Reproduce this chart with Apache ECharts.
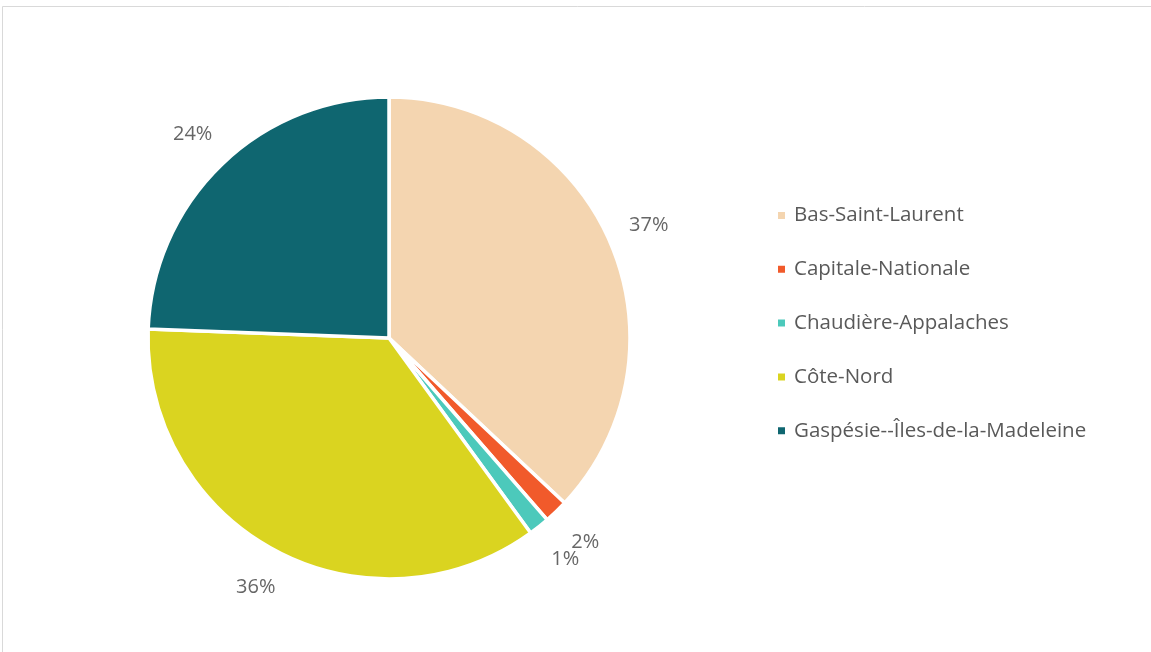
<!DOCTYPE html>
<html>
<head>
<meta charset="utf-8">
<script src="https://cdn.jsdelivr.net/npm/echarts@6/dist/echarts.min.js"></script>
<style>
  html, body { margin: 0; padding: 0; background: #ffffff; }
  #chart { width: 1151px; height: 652px; }
</style>
</head>
<body>
<div id="chart"></div>
<script>
// Regions and their share of the total (percent)
const regions = ['Bas-Saint-Laurent', 'Capitale-Nationale', 'Chaudière-Appalaches', 'Côte-Nord', 'Gaspésie--Îles-de-la-Madeleine'];
const shares = [37.0, 1.6, 1.4, 35.6, 24.4];
const colors = ['#F4D5B0', '#F15A2B', '#4CC9BB', '#DAD420', '#0F6670'];

const center = [389, 338];
const pieData = regions.map((name, i) => ({ name, value: shares[i], itemStyle: { color: colors[i] } }));

// Percentage labels sit on a ring just outside the pie, at each slice's mid-angle
const total = shares.reduce((a, b) => a + b, 0);
let acc = 0;
const labelPoints = shares.map(v => {
  const mid = (acc + v / 2) / total * 100;
  acc += v;
  return { value: [1, mid], pct: Math.round(v / total * 100) };
});

const chart = echarts.init(document.getElementById('chart'), null, { renderer: 'canvas' });
chart.setOption({
  backgroundColor: '#ffffff',
  animation: false,
  graphic: [{
    type: 'rect',
    shape: { x: 2.5, y: 6.5, width: 1160, height: 660 },
    style: { fill: 'none', stroke: '#d9d9d9', lineWidth: 1 },
    silent: true
  }],
  polar: { center: center, radius: 283 },
  radiusAxis: { type: 'value', min: 0, max: 1, show: false },
  angleAxis: { type: 'value', min: 0, max: 100, startAngle: 90, clockwise: true, show: false },
  legend: {
    orient: 'vertical',
    left: 776,
    top: 205,
    padding: 0,
    itemWidth: 9,
    itemHeight: 9,
    itemGap: 32.8,
    icon: 'rect',
    textStyle: { color: '#595959', fontSize: 20.5, fontFamily: 'Open Sans', padding: [0, 0, 0, 3] },
    data: regions.map((name, i) => ({ name, itemStyle: { color: colors[i] } }))
  },
  series: [
    {
      type: 'pie',
      center: center,
      radius: [0, 241],
      startAngle: 90,
      clockwise: true,
      avoidLabelOverlap: false,
      itemStyle: { borderColor: '#ffffff', borderWidth: 3.5 },
      label: { show: false },
      labelLine: { show: false },
      emphasis: { disabled: true },
      data: pieData
    },
    {
      type: 'scatter',
      coordinateSystem: 'polar',
      symbolSize: 0,
      silent: true,
      label: {
        show: true,
        position: 'inside',
        color: '#404040',
        fontSize: 20,
        fontFamily: 'Open Sans',
        formatter: p => p.data.pct + '%'
      },
      emphasis: { disabled: true },
      data: labelPoints
    }
  ]
});
</script>
</body>
</html>
